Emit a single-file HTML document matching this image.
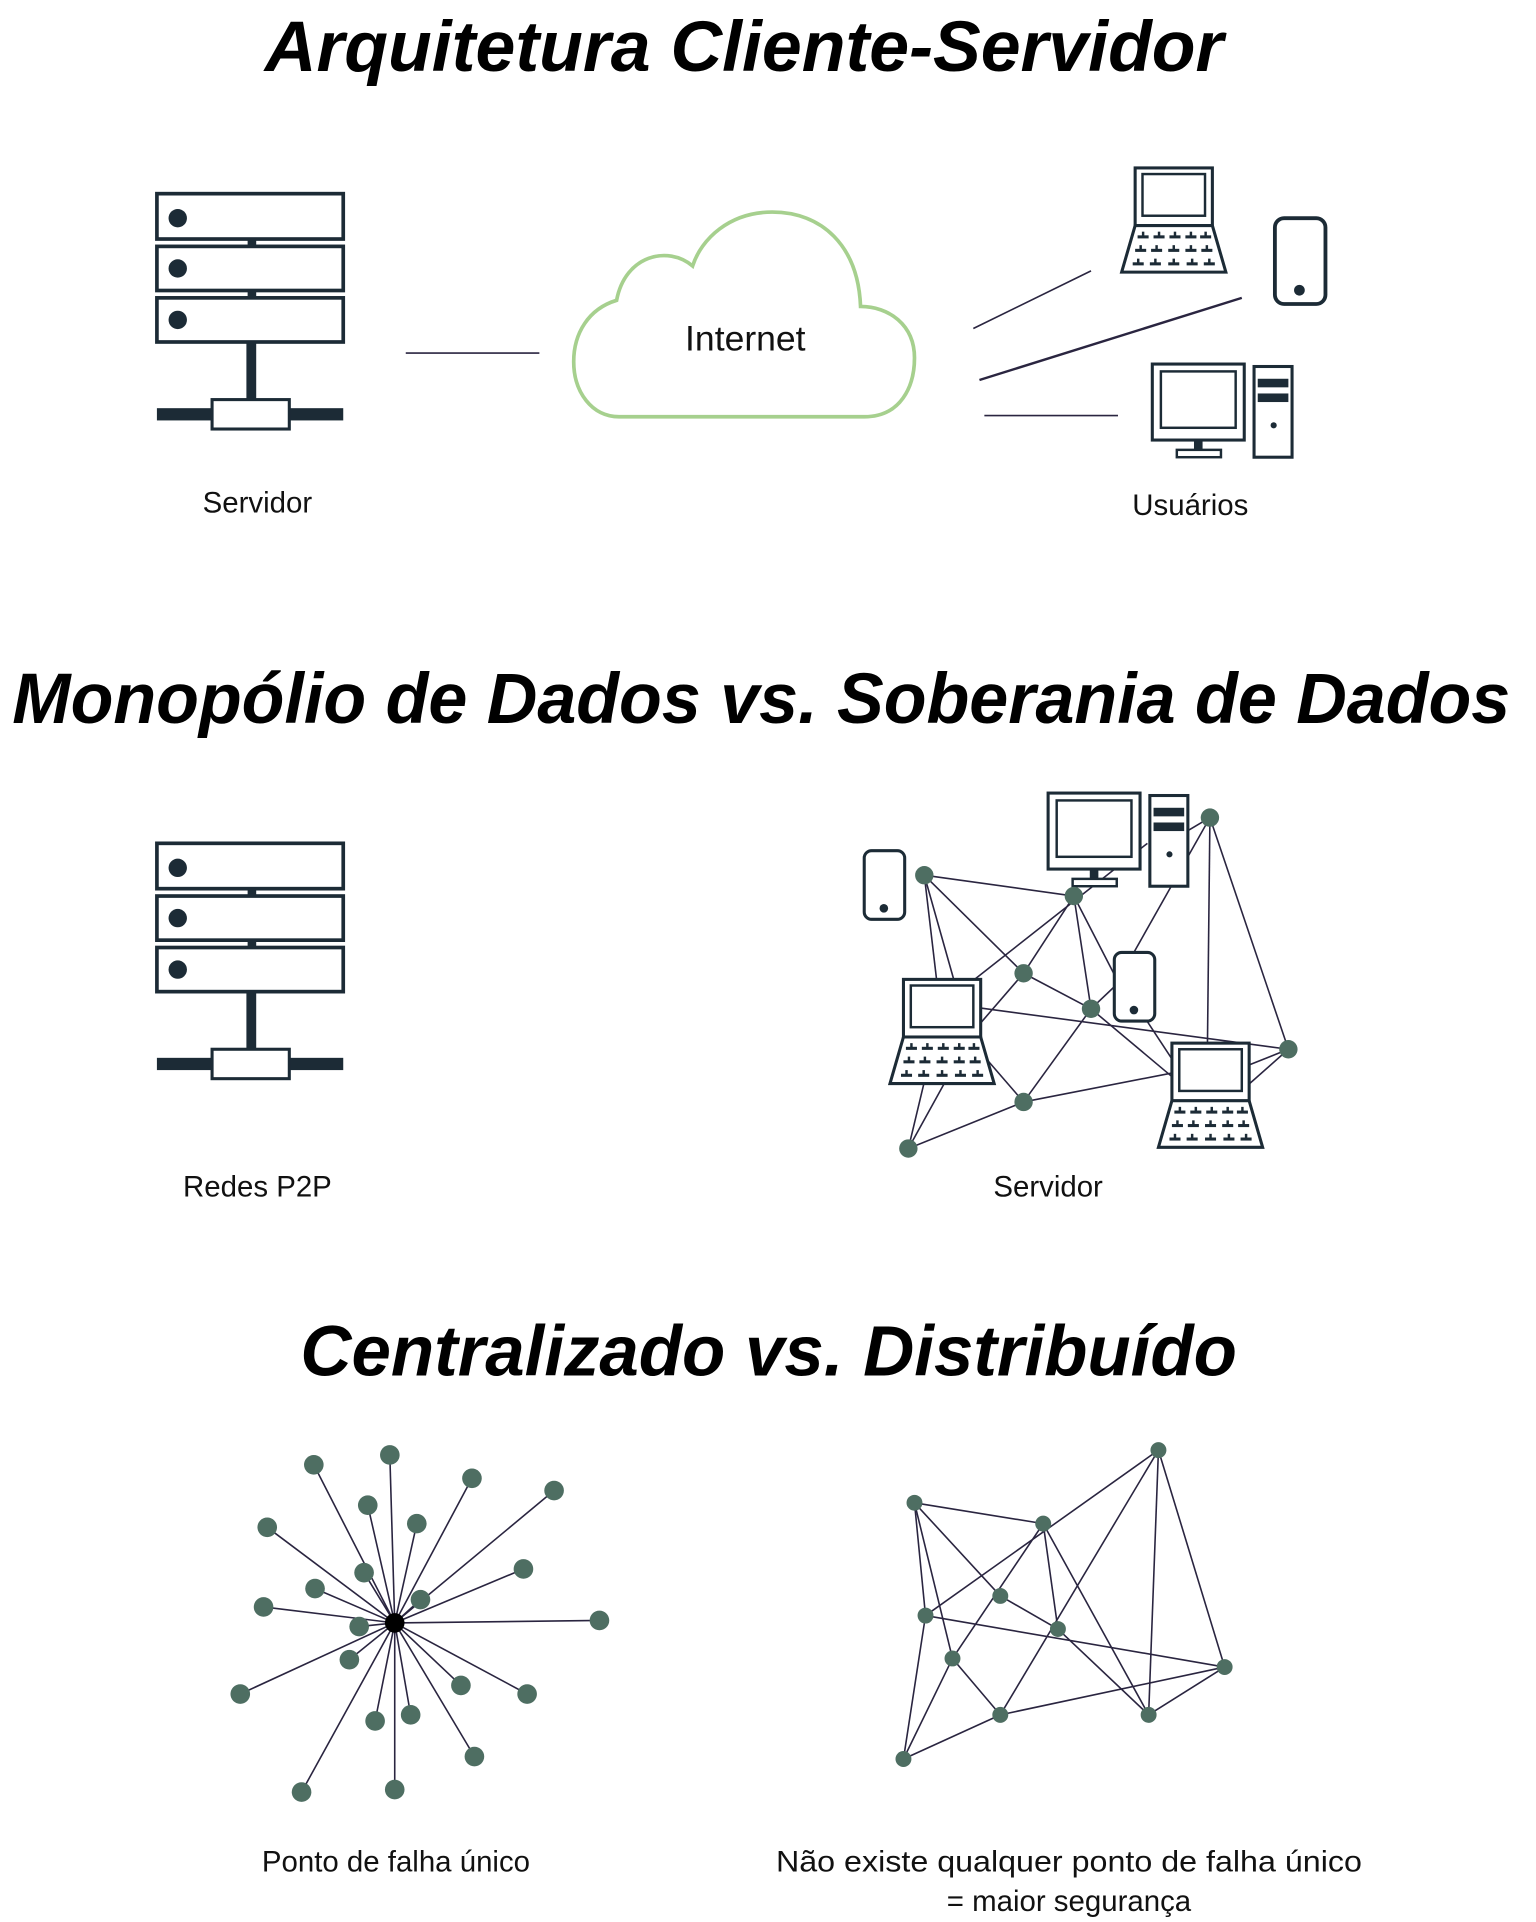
<!DOCTYPE html>
<html><head><meta charset="utf-8"><style>
html,body{margin:0;padding:0;background:#fff;}
svg{display:block;}
text{font-family:"Liberation Sans",sans-serif;}
</style></head><body>
<svg width="1536" height="1922" viewBox="0 0 1253 1568" preserveAspectRatio="none" xmlns="http://www.w3.org/2000/svg">
<defs>
<g id="server">
  <rect x="128" y="158" width="152" height="37" fill="#fff" stroke="#1c2b36" stroke-width="3"/>
  <rect x="128" y="201" width="152" height="36" fill="#fff" stroke="#1c2b36" stroke-width="3"/>
  <rect x="128" y="243" width="152" height="36" fill="#fff" stroke="#1c2b36" stroke-width="3"/>
  <rect x="202" y="195" width="7" height="6" fill="#1c2b36"/>
  <rect x="202" y="237" width="7" height="6" fill="#1c2b36"/>
  <circle cx="145" cy="178" r="7.5" fill="#1c2b36"/>
  <circle cx="145" cy="219" r="7.5" fill="#1c2b36"/>
  <circle cx="145" cy="261" r="7.5" fill="#1c2b36"/>
  <rect x="201" y="279" width="8" height="47" fill="#1c2b36"/>
  <rect x="128" y="333" width="152" height="10" fill="#1c2b36"/>
  <rect x="173" y="326" width="63" height="24" fill="#fff" stroke="#1c2b36" stroke-width="2.5"/>
</g>
<g id="laptop">
  <rect x="0" y="0" width="63" height="47" fill="#fff" stroke="#1c2b36" stroke-width="2.5"/>
  <rect x="6" y="5" width="51" height="34" fill="#fff" stroke="#1c2b36" stroke-width="2"/>
  <polygon points="0,47 63,47 74,85 -11,85" fill="#fff" stroke="#1c2b36" stroke-width="2.5"/>
  <g fill="#1c2b36">
    <rect x="2" y="55" width="9" height="2.5"/><rect x="15" y="55" width="9" height="2.5"/><rect x="28" y="55" width="9" height="2.5"/><rect x="41" y="55" width="9" height="2.5"/><rect x="53" y="55" width="9" height="2.5"/>
    <rect x="0" y="66" width="9" height="2.5"/><rect x="13" y="66" width="9" height="2.5"/><rect x="27" y="66" width="9" height="2.5"/><rect x="41" y="66" width="9" height="2.5"/><rect x="54" y="66" width="9" height="2.5"/>
    <rect x="-2" y="77" width="9" height="2.5"/><rect x="12" y="77" width="9" height="2.5"/><rect x="27" y="77" width="9" height="2.5"/><rect x="42" y="77" width="9" height="2.5"/><rect x="56" y="77" width="9" height="2.5"/>
    <rect x="5.5" y="52" width="2" height="4"/><rect x="18.5" y="52" width="2" height="4"/><rect x="31.5" y="52" width="2" height="4"/><rect x="44.5" y="52" width="2" height="4"/><rect x="56.5" y="52" width="2" height="4"/>
    <rect x="3.5" y="63" width="2" height="4"/><rect x="16.5" y="63" width="2" height="4"/><rect x="30.5" y="63" width="2" height="4"/><rect x="44.5" y="63" width="2" height="4"/><rect x="57.5" y="63" width="2" height="4"/>
    <rect x="1.5" y="74" width="2" height="4"/><rect x="15.5" y="74" width="2" height="4"/><rect x="30.5" y="74" width="2" height="4"/><rect x="45.5" y="74" width="2" height="4"/><rect x="59.5" y="74" width="2" height="4"/>
  </g>
</g>
<g id="phone">
  <rect x="0" y="0" width="33" height="56" rx="6" fill="#fff" stroke="#1c2b36" stroke-width="2.5"/>
  <circle cx="16" cy="47" r="3.5" fill="#1c2b36"/>
</g>
<g id="desktop">
  <rect x="0" y="0" width="75" height="62" fill="#fff" stroke="#1c2b36" stroke-width="2.5"/>
  <rect x="7" y="6" width="61" height="46" fill="#fff" stroke="#1c2b36" stroke-width="2"/>
  <rect x="34" y="62" width="7" height="8" fill="#1c2b36"/>
  <rect x="20" y="70" width="36" height="6" fill="#fff" stroke="#1c2b36" stroke-width="2"/>
  <rect x="83" y="2" width="31" height="74" fill="#fff" stroke="#1c2b36" stroke-width="2.5"/>
  <rect x="86" y="12" width="25" height="7" fill="#1c2b36"/>
  <rect x="86" y="24" width="25" height="7" fill="#1c2b36"/>
  <circle cx="99" cy="50" r="2.5" fill="#1c2b36"/>
</g>
</defs>

<!-- Section 1 -->
<text x="607" y="58" font-size="58" font-weight="bold" font-style="italic" text-anchor="middle" textLength="782" lengthAdjust="spacingAndGlyphs">Arquitetura Cliente-Servidor</text>
<use href="#server"/>
<line x1="331" y1="288" x2="440" y2="288" stroke="#2a2540" stroke-width="1.3"/>
<path d="M505,340 L705,340 C735,340 746,315 746,292 C746,265 725,250 702,250 C700,200 670,173 630,173 C595,173 572,195 565,217 C545,200 510,208 503,245 C480,252 468,272 468,295 C468,320 483,340 505,340 Z" fill="#fff" stroke="#a6d08e" stroke-width="3"/>
<text x="608" y="286" font-size="29" text-anchor="middle" fill="#111">Internet</text>
<line x1="794" y1="268" x2="890" y2="221" stroke="#2a2540" stroke-width="1.3"/>
<line x1="799" y1="310" x2="1013" y2="243" stroke="#2a2540" stroke-width="2"/>
<line x1="803" y1="339" x2="912" y2="339" stroke="#2a2540" stroke-width="1.3"/>
<use href="#laptop" transform="translate(926,137)"/>
<use href="#phone" transform="translate(1040,178) scale(1.25)"/>
<use href="#desktop" transform="translate(940,297)"/>
<text x="210" y="418" font-size="24" text-anchor="middle" fill="#111">Servidor</text>
<text x="971" y="420" font-size="24" text-anchor="middle" fill="#111">Usuários</text>

<!-- Section 2 -->
<text x="621" y="590" font-size="58" font-weight="bold" font-style="italic" text-anchor="middle" textLength="1222" lengthAdjust="spacingAndGlyphs">Monopólio de Dados  vs. Soberania de Dados</text>
<use href="#server" transform="translate(0,530)"/>
<text x="210" y="976" font-size="24" text-anchor="middle" fill="#111">Redes P2P</text>

<g stroke="#2a2540" stroke-width="1.3">
  <line x1="754" y1="714" x2="876" y2="731"/>
  <line x1="754" y1="714" x2="835" y2="794"/>
  <line x1="754" y1="714" x2="764" y2="799"/>
  <line x1="754" y1="714" x2="778" y2="799"/>
  <line x1="795" y1="799" x2="936" y2="688"/>
  <line x1="876" y1="731" x2="835" y2="794"/>
  <line x1="876" y1="731" x2="890" y2="823"/>
  <line x1="876" y1="731" x2="909" y2="795"/>
  <line x1="835" y1="794" x2="797" y2="838"/>
  <line x1="835" y1="794" x2="890" y2="823"/>
  <line x1="797" y1="822" x2="1051" y2="856"/>
  <line x1="803" y1="862" x2="835" y2="899"/>
  <line x1="890" y1="823" x2="835" y2="899"/>
  <line x1="890" y1="823" x2="909" y2="805"/>
  <line x1="890" y1="823" x2="958" y2="880"/>
  <line x1="987" y1="667" x2="965" y2="680"/>
  <line x1="987" y1="667" x2="925" y2="777"/>
  <line x1="987" y1="667" x2="985" y2="851"/>
  <line x1="987" y1="667" x2="1051" y2="856"/>
  <line x1="935" y1="832" x2="958" y2="867"/>
  <line x1="1016" y1="870" x2="1051" y2="856"/>
  <line x1="1016" y1="887" x2="1051" y2="856"/>
  <line x1="835" y1="899" x2="958" y2="875"/>
  <line x1="741" y1="937" x2="835" y2="899"/>
  <line x1="741" y1="937" x2="757" y2="870"/>
  <line x1="741" y1="937" x2="778" y2="870"/>
</g>
<use href="#phone" transform="translate(705,694)"/>
<use href="#phone" transform="translate(909,777)"/>
<use href="#desktop" transform="translate(855,647)"/>
<use href="#laptop" transform="translate(737,799)"/>
<use href="#laptop" transform="translate(956,851)"/>
<g fill="#4e6e62">
  <circle cx="754" cy="714" r="7.5"/><circle cx="876" cy="731" r="7.5"/><circle cx="835" cy="794" r="7.5"/>
  <circle cx="890" cy="823" r="7.5"/><circle cx="987" cy="667" r="7.5"/><circle cx="1051" cy="856" r="7.5"/>
  <circle cx="835" cy="899" r="7.5"/><circle cx="741" cy="937" r="7.5"/>
</g>
<text x="855" y="976" font-size="24" text-anchor="middle" fill="#111">Servidor</text>

<!-- Section 3 -->
<text x="627" y="1122" font-size="58" font-weight="bold" font-style="italic" text-anchor="middle" textLength="764" lengthAdjust="spacingAndGlyphs">Centralizado vs. Distribuído</text>

<g stroke="#2a2540" stroke-width="1.3">
  <line x1="322" y1="1324" x2="256" y2="1195"/><line x1="322" y1="1324" x2="318" y2="1187"/>
  <line x1="322" y1="1324" x2="385" y2="1206"/><line x1="322" y1="1324" x2="452" y2="1216"/>
  <line x1="322" y1="1324" x2="300" y2="1228"/><line x1="322" y1="1324" x2="340" y2="1243"/>
  <line x1="322" y1="1324" x2="218" y2="1246"/><line x1="322" y1="1324" x2="297" y2="1283"/>
  <line x1="322" y1="1324" x2="257" y2="1296"/><line x1="322" y1="1324" x2="427" y2="1280"/>
  <line x1="322" y1="1324" x2="343" y2="1305"/><line x1="322" y1="1324" x2="215" y2="1311"/>
  <line x1="322" y1="1324" x2="293" y2="1327"/><line x1="322" y1="1324" x2="489" y2="1322"/>
  <line x1="322" y1="1324" x2="285" y2="1354"/><line x1="322" y1="1324" x2="196" y2="1382"/>
  <line x1="322" y1="1324" x2="376" y2="1375"/><line x1="322" y1="1324" x2="430" y2="1382"/>
  <line x1="322" y1="1324" x2="306" y2="1404"/><line x1="322" y1="1324" x2="335" y2="1399"/>
  <line x1="322" y1="1324" x2="387" y2="1433"/><line x1="322" y1="1324" x2="246" y2="1462"/>
  <line x1="322" y1="1324" x2="322" y2="1460"/>
</g>
<g fill="#4e6e62">
  <circle cx="256" cy="1195" r="8"/><circle cx="318" cy="1187" r="8"/><circle cx="385" cy="1206" r="8"/>
  <circle cx="452" cy="1216" r="8"/><circle cx="300" cy="1228" r="8"/><circle cx="340" cy="1243" r="8"/>
  <circle cx="218" cy="1246" r="8"/><circle cx="297" cy="1283" r="8"/><circle cx="257" cy="1296" r="8"/>
  <circle cx="427" cy="1280" r="8"/><circle cx="343" cy="1305" r="8"/><circle cx="215" cy="1311" r="8"/>
  <circle cx="293" cy="1327" r="8"/><circle cx="489" cy="1322" r="8"/><circle cx="285" cy="1354" r="8"/>
  <circle cx="196" cy="1382" r="8"/><circle cx="376" cy="1375" r="8"/><circle cx="430" cy="1382" r="8"/>
  <circle cx="306" cy="1404" r="8"/><circle cx="335" cy="1399" r="8"/><circle cx="387" cy="1433" r="8"/>
  <circle cx="246" cy="1462" r="8"/><circle cx="322" cy="1460" r="8"/>
</g>
<circle cx="322" cy="1324" r="8" fill="#000"/>

<g stroke="#2a2540" stroke-width="1.3">
  <line x1="746" y1="1226" x2="851" y2="1243"/>
  <line x1="746" y1="1226" x2="755" y2="1318"/>
  <line x1="746" y1="1226" x2="816" y2="1302"/>
  <line x1="746" y1="1226" x2="777" y2="1353"/>
  <line x1="945" y1="1183" x2="755" y2="1318"/>
  <line x1="851" y1="1243" x2="777" y2="1353"/>
  <line x1="851" y1="1243" x2="863" y2="1329"/>
  <line x1="851" y1="1243" x2="937" y2="1399"/>
  <line x1="945" y1="1183" x2="816" y2="1399"/>
  <line x1="945" y1="1183" x2="937" y2="1399"/>
  <line x1="945" y1="1183" x2="999" y2="1360"/>
  <line x1="816" y1="1302" x2="863" y2="1329"/>
  <line x1="755" y1="1318" x2="999" y2="1360"/>
  <line x1="755" y1="1318" x2="737" y2="1435"/>
  <line x1="777" y1="1353" x2="737" y2="1435"/>
  <line x1="777" y1="1353" x2="816" y2="1399"/>
  <line x1="816" y1="1399" x2="999" y2="1360"/>
  <line x1="737" y1="1435" x2="816" y2="1399"/>
  <line x1="863" y1="1329" x2="937" y2="1399"/>
  <line x1="937" y1="1399" x2="999" y2="1360"/>
</g>
<g fill="#4e6e62">
  <circle cx="746" cy="1226" r="6.5"/><circle cx="851" cy="1243" r="6.5"/><circle cx="945" cy="1183" r="6.5"/>
  <circle cx="816" cy="1302" r="6.5"/><circle cx="755" cy="1318" r="6.5"/><circle cx="863" cy="1329" r="6.5"/>
  <circle cx="777" cy="1353" r="6.5"/><circle cx="999" cy="1360" r="6.5"/><circle cx="816" cy="1399" r="6.5"/>
  <circle cx="937" cy="1399" r="6.5"/><circle cx="737" cy="1435" r="6.5"/>
</g>

<text x="323" y="1527" font-size="24" text-anchor="middle" fill="#111">Ponto de falha  único</text>
<text x="872" y="1527" font-size="24" text-anchor="middle" fill="#111" textLength="478" lengthAdjust="spacingAndGlyphs">Não existe qualquer ponto de falha  único</text>
<text x="872" y="1559" font-size="24" text-anchor="middle" fill="#111">= maior segurança</text>
</svg>
</body></html>
